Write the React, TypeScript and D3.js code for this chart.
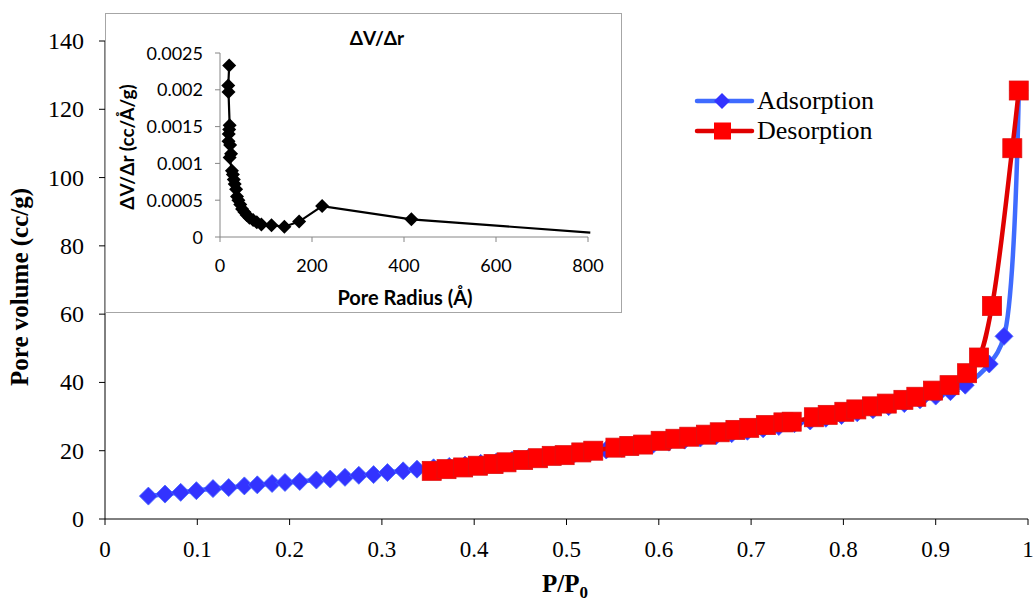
import * as d3 from 'd3';

// --- main isotherm data (P/P0, pore volume cc/g) ---
const adsP = [
  0.047, 0.065, 0.082, 0.099, 0.117, 0.134, 0.151, 0.165, 0.181, 0.195,
  0.211, 0.229, 0.244, 0.260, 0.275, 0.291, 0.306, 0.323, 0.338, 0.356,
  0.373, 0.390, 0.407, 0.424, 0.441, 0.458, 0.475, 0.492, 0.509, 0.526,
  0.543, 0.560, 0.577, 0.594, 0.611, 0.628, 0.645, 0.662, 0.679, 0.696,
  0.713, 0.730, 0.747, 0.764, 0.781, 0.798, 0.815, 0.832, 0.849, 0.866,
  0.883, 0.900, 0.916, 0.932, 0.958, 0.974, 0.990,
];
const adsV = [
  6.7, 7.3, 7.8, 8.3, 8.9, 9.2, 9.7, 10.0, 10.4, 10.7,
  11.0, 11.4, 11.7, 12.2, 12.8, 13.0, 13.6, 14.1, 14.6, 15.0,
  15.4, 15.8, 16.3, 16.7, 17.2, 17.7, 18.2, 18.7, 19.2, 19.6,
  20.2, 20.7, 21.3, 21.9, 22.5, 23.1, 23.7, 24.4, 25.0, 25.7,
  26.4, 27.1, 27.9, 28.7, 29.5, 30.3, 31.1, 32.0, 32.9, 33.8,
  34.9, 36.0, 37.3, 39.2, 45.4, 53.5, 125.5,
];

const desP = [
  0.354, 0.370, 0.388, 0.404, 0.421, 0.435, 0.453, 0.469, 0.484, 0.498,
  0.516, 0.529, 0.553, 0.568, 0.583, 0.602, 0.618, 0.633, 0.651, 0.666,
  0.683, 0.698, 0.716, 0.735, 0.744, 0.768, 0.783, 0.801, 0.814, 0.831,
  0.847, 0.865, 0.879, 0.897, 0.915, 0.934, 0.947, 0.961, 0.983, 0.990,
];
const desV = [
  14.1, 14.6, 15.1, 15.6, 16.1, 16.6, 17.3, 17.8, 18.5, 18.7,
  19.5, 20.0, 20.9, 21.4, 21.8, 22.9, 23.5, 24.1, 24.7, 25.4,
  26.1, 26.7, 27.5, 28.3, 28.5, 29.8, 30.5, 31.4, 32.1, 33.0,
  33.8, 34.9, 35.8, 37.6, 39.2, 42.7, 47.3, 62.4, 108.6, 125.5,
];

const xTicks = [0, 0.1, 0.2, 0.3, 0.4, 0.5, 0.6, 0.7, 0.8, 0.9, 1];
const yTicks = [0, 20, 40, 60, 80, 100, 120, 140];

// --- inset: BJH pore size distribution ---
const poreR = [
  20, 18, 18.5, 21, 20, 19, 18.5, 22, 24, 21,
  26, 28, 30, 32, 35, 37, 40, 44, 48, 53,
  58, 64, 72, 80, 90, 112, 140, 172, 222, 416, 805,
];
const dVdr = [
  0.00233, 0.00206, 0.00197, 0.00152, 0.00146, 0.0014, 0.0013, 0.00125, 0.00113, 0.00108,
  0.0009, 0.00085, 0.00078, 0.00072, 0.00065, 0.00055, 0.0005, 0.00044, 0.00038, 0.00034,
  0.0003, 0.00026, 0.00023, 0.0002, 0.00017, 0.00016, 0.00014, 0.00021, 0.00042, 0.00024, 0.00006,
];
const insetXTicks = [0, 200, 400, 600, 800];
const insetYTicks = [0, 0.0005, 0.001, 0.0015, 0.002, 0.0025];

const serif = '"Liberation Serif", "Times New Roman", serif';
const sans = 'Lato, "Open Sans", sans-serif';

const diamond = (cx: number, cy: number, r: number) =>
  `M${cx},${cy - r}L${cx + r},${cy}L${cx},${cy + r}L${cx - r},${cy}Z`;

function App() {
  const x = d3.scaleLinear().domain([0, 1]).range([105, 1028]);
  const y = d3.scaleLinear().domain([0, 140]).range([519, 41]);

  const ads = adsP.map((p, i) => [p, adsV[i]] as [number, number]);
  const des = desP.map((p, i) => [p, desV[i]] as [number, number]);

  const line = d3.line<[number, number]>()
    .x(d => x(d[0]))
    .y(d => y(d[1]))
    .curve(d3.curveCatmullRom);

  const ix = d3.scaleLinear().domain([0, 800]).range([220, 588]);
  const iy = d3.scaleLinear().domain([0, 0.0025]).range([237, 53]);
  const psd = poreR.map((r, i) => [r, dVdr[i]] as [number, number]);
  const insetLine = d3.line<[number, number]>().x(d => ix(d[0])).y(d => iy(d[1]));

  return (
    <svg width={1034} height={604} style={{ position: 'absolute', left: 0, top: 0, background: '#fff' }}>
      {/* main axes */}
      <line x1={105} x2={105} y1={41} y2={519} stroke="#000" strokeWidth={1} />
      <line x1={105} x2={1028} y1={519} y2={519} stroke="#000" strokeWidth={1} />
      {yTicks.map(t => (
        <g key={'yt' + t}>
          <line x1={99} x2={105} y1={y(t)} y2={y(t)} stroke="#000" />
          <text x={84} y={y(t) + 8} textAnchor="end" fontFamily={serif} fontSize={24}>{t}</text>
        </g>
      ))}
      {xTicks.map(t => (
        <g key={'xt' + t}>
          <line x1={x(t)} x2={x(t)} y1={519} y2={525} stroke="#000" />
          <text x={x(t)} y={557} textAnchor="middle" fontFamily={serif} fontSize={23}>{t}</text>
        </g>
      ))}
      <text transform="translate(28,287) rotate(-90)" textAnchor="middle" fontFamily={serif} fontSize={25} fontWeight="bold">
        Pore volume (cc/g)
      </text>
      <text x={565} y={592} textAnchor="middle" fontFamily={serif} fontSize={25} fontWeight="bold">
        P/P<tspan fontSize={17} dy={6}>0</tspan>
      </text>

      {/* adsorption */}
      <path d={line(ads) ?? ''} fill="none" stroke="#3F6BFF" strokeWidth={4.5} />
      {ads.map((d, i) => (
        <path key={'a' + i} d={diamond(x(d[0]), y(d[1]), 9)} fill="#3333FF" stroke="#4466FF" strokeWidth={0.8} />
      ))}
      {/* desorption */}
      <path d={line(des) ?? ''} fill="none" stroke="#E00000" strokeWidth={4.5} />
      {des.map((d, i) => (
        <rect key={'d' + i} x={x(d[0]) - 9.5} y={y(d[1]) - 9.5} width={19} height={19} fill="#FF0000" stroke="#E01010" strokeWidth={0.8} />
      ))}

      {/* legend */}
      <line x1={697} x2={752} y1={101} y2={101} stroke="#3F6BFF" strokeWidth={4.5} strokeLinecap="round" />
      <path d={diamond(722, 101, 8)} fill="#3333FF" />
      <text x={757} y={109} fontFamily={serif} fontSize={26}>Adsorption</text>
      <line x1={697} x2={752} y1={131} y2={131} stroke="#E00000" strokeWidth={4.5} strokeLinecap="round" />
      <rect x={714} y={122.5} width={17} height={17} fill="#FF0000" />
      <text x={757} y={139} fontFamily={serif} fontSize={26}>Desorption</text>

      {/* inset */}
      <rect x={105.5} y={13.5} width={516} height={299} fill="#fff" stroke="#A6A6A6" strokeWidth={1} />
      <text x={377} y={45} textAnchor="middle" fontFamily={sans} fontSize={19} fontWeight="bold">ΔV/Δr</text>
      <line x1={220} x2={220} y1={53} y2={237} stroke="#868686" />
      <line x1={220} x2={588} y1={237} y2={237} stroke="#868686" />
      {insetYTicks.map(t => (
        <g key={'iy' + t}>
          <line x1={215} x2={220} y1={iy(t)} y2={iy(t)} stroke="#868686" />
          <text x={203} y={iy(t) + 6.5} textAnchor="end" fontFamily={sans} fontSize={18}>{t === 0 ? '0' : String(t)}</text>
        </g>
      ))}
      {insetXTicks.map(t => (
        <g key={'ix' + t}>
          <line x1={ix(t)} x2={ix(t)} y1={237} y2={242} stroke="#868686" />
          <text x={ix(t)} y={272} textAnchor="middle" fontFamily={sans} fontSize={18}>{t}</text>
        </g>
      ))}
      <text x={405} y={305} textAnchor="middle" fontFamily={sans} fontSize={20} fontWeight="bold">Pore Radius (Å)</text>
      <text transform="translate(134,147) rotate(-90)" textAnchor="middle" fontFamily={sans} fontSize={19} fontWeight="bold">
        ΔV/Δr (cc/Å/g)
      </text>
      <path d={insetLine(psd) ?? ''} fill="none" stroke="#000" strokeWidth={2.2} />
      {psd.slice(0, -1).map((d, i) => (
        <path key={'p' + i} d={diamond(ix(d[0]), iy(d[1]), 7)} fill="#000" />
      ))}
    </svg>
  );
}

export default App;
